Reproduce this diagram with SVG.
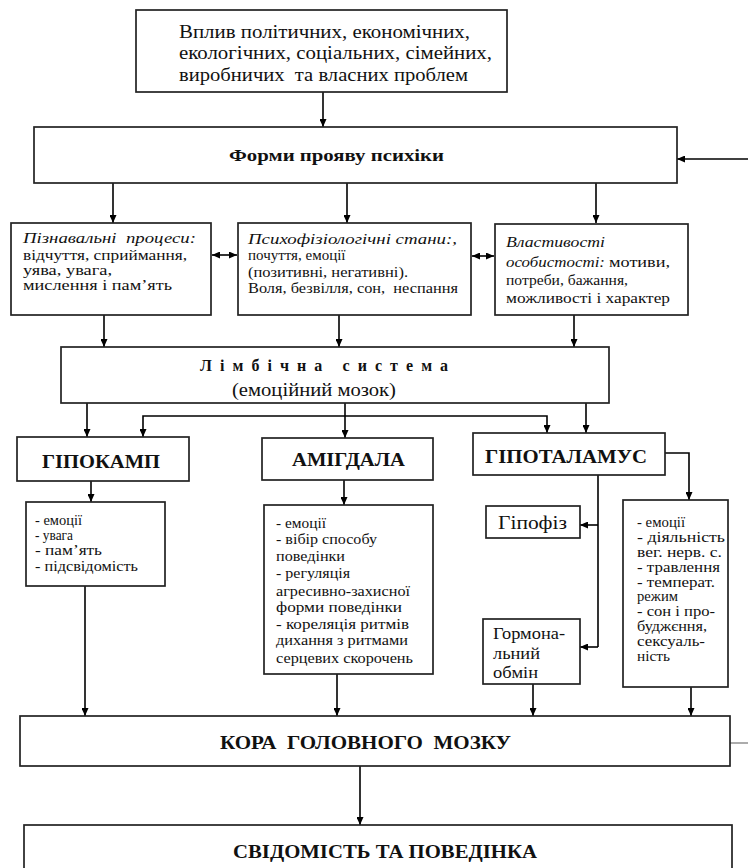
<svg xmlns="http://www.w3.org/2000/svg" width="748" height="868" viewBox="0 0 748 868" font-family="Liberation Serif, Times New Roman, DejaVu Serif, serif">
<defs>
<marker id="arr" viewBox="0 0 8 7" refX="8" refY="3.5" markerWidth="8" markerHeight="7" markerUnits="userSpaceOnUse" orient="auto-start-reverse">
<path d="M0,0 L8,3.5 L0,7 z" fill="#000"/>
</marker>
<style>
.box{fill:#fff;stroke:#222;stroke-width:1.7}
.ln{fill:none;stroke:#000;stroke-width:1.6}
text{fill:#111}
.b{font-weight:bold}
.i{font-style:italic}
</style>
</defs>
<rect width="748" height="868" fill="#fff"/>

<g id="connectors">
<line class="ln" x1="323" y1="92" x2="323" y2="127" marker-end="url(#arr)"/>
<line class="ln" x1="748" y1="159" x2="677" y2="159" stroke-width="2.6" marker-end="url(#arr)"/>
<line class="ln" x1="113" y1="183" x2="113" y2="223" marker-end="url(#arr)"/>
<line class="ln" x1="347" y1="183" x2="347" y2="223" marker-end="url(#arr)"/>
<line class="ln" x1="596" y1="183" x2="596" y2="223" marker-end="url(#arr)"/>
<line class="ln" x1="212" y1="255" x2="237" y2="255" marker-start="url(#arr)" marker-end="url(#arr)"/>
<line class="ln" x1="472" y1="256" x2="494" y2="256" marker-start="url(#arr)" marker-end="url(#arr)"/>
<line class="ln" x1="104" y1="315" x2="104" y2="347" marker-end="url(#arr)"/>
<line class="ln" x1="339" y1="315" x2="339" y2="347" marker-end="url(#arr)"/>
<line class="ln" x1="574" y1="315" x2="574" y2="347" marker-end="url(#arr)"/>
<line class="ln" x1="87" y1="403" x2="87" y2="437" marker-end="url(#arr)"/>
<polyline class="ln" points="143,437 143,416 547,416 547,433" marker-start="url(#arr)" marker-end="url(#arr)"/>
<line class="ln" x1="345" y1="403" x2="345" y2="438" marker-end="url(#arr)"/>
<line class="ln" x1="586" y1="403" x2="586" y2="433" marker-end="url(#arr)"/>
<line class="ln" x1="91" y1="481" x2="91" y2="502" marker-end="url(#arr)"/>
<line class="ln" x1="344" y1="480" x2="344" y2="505" marker-end="url(#arr)"/>
<polyline class="ln" points="665,453 689,453 689,500" marker-end="url(#arr)"/>
<line class="ln" x1="598" y1="475" x2="598" y2="647"/>
<line class="ln" x1="598" y1="525" x2="580" y2="525" marker-end="url(#arr)"/>
<line class="ln" x1="598" y1="647" x2="580" y2="647" marker-end="url(#arr)"/>
<line class="ln" x1="85" y1="586" x2="85" y2="716" marker-end="url(#arr)"/>
<line class="ln" x1="337" y1="674" x2="337" y2="716" marker-end="url(#arr)"/>
<line class="ln" x1="533" y1="684" x2="533" y2="716" marker-end="url(#arr)"/>
<line class="ln" x1="691" y1="687" x2="691" y2="716" marker-end="url(#arr)"/>
<line x1="730" y1="743" x2="748" y2="743" stroke="#888" stroke-width="1.4"/>
<line class="ln" x1="360" y1="766" x2="360" y2="825" marker-end="url(#arr)"/>
</g>

<g id="n-influence">
<rect class="box" x="136" y="10" width="371" height="82"/>
<text font-size="18" xml:space="preserve"><tspan x="179" y="38" textLength="291" lengthAdjust="spacingAndGlyphs">Вплив політичних, економічних,</tspan><tspan x="179" y="59" textLength="313" lengthAdjust="spacingAndGlyphs">екологічних, соціальних, сімейних,</tspan><tspan x="179" y="81" textLength="289" lengthAdjust="spacingAndGlyphs">виробничих  та власних проблем</tspan></text>
</g>

<g id="n-forms">
<rect class="box" x="34" y="127" width="643" height="56"/>
<text class="b" font-size="17.5" x="229" y="161" textLength="215" lengthAdjust="spacingAndGlyphs">Форми прояву психіки</text>
</g>

<g id="n-cognitive">
<rect class="box" x="11" y="223" width="200" height="92"/>
<text font-size="15" xml:space="preserve"><tspan x="23" y="243" class="i" textLength="173" lengthAdjust="spacingAndGlyphs">Пізнавальні  процеси:</tspan><tspan x="23" y="260" textLength="164" lengthAdjust="spacingAndGlyphs">відчуття, сприймання,</tspan><tspan x="23" y="275" textLength="89" lengthAdjust="spacingAndGlyphs">уява, увага,</tspan><tspan x="23" y="290" textLength="149" lengthAdjust="spacingAndGlyphs">мислення і пам’ять</tspan></text>
</g>

<g id="n-states">
<rect class="box" x="238" y="223" width="233" height="92"/>
<text font-size="15" xml:space="preserve"><tspan x="248" y="244" class="i" textLength="209" lengthAdjust="spacingAndGlyphs">Психофізіологічні стани:,</tspan><tspan x="248" y="260">почуття, емоції</tspan><tspan x="248" y="277" textLength="160" lengthAdjust="spacingAndGlyphs">(позитивні, негативні).</tspan><tspan x="248" y="293" textLength="210" lengthAdjust="spacingAndGlyphs">Воля, безвілля, сон,  неспання</tspan></text>
</g>

<g id="n-traits">
<rect class="box" x="495" y="224" width="193" height="91"/>
<text font-size="15"><tspan x="506" y="247" class="i" textLength="99" lengthAdjust="spacingAndGlyphs">Властивості</tspan><tspan x="506" y="267" class="i" textLength="99" lengthAdjust="spacingAndGlyphs">особистості:</tspan><tspan x="609" y="267" textLength="61" lengthAdjust="spacingAndGlyphs">мотиви,</tspan><tspan x="506" y="285" textLength="122" lengthAdjust="spacingAndGlyphs">потреби, бажання,</tspan><tspan x="506" y="303" textLength="164" lengthAdjust="spacingAndGlyphs">можливості і характер</tspan></text>
</g>

<g id="n-limbic">
<rect class="box" x="61" y="347" width="548" height="56"/>
<text class="b" font-size="16" x="200" y="371" textLength="248" lengthAdjust="spacing">Лімбічна система</text>
<text font-size="18" x="232" y="396" textLength="164" lengthAdjust="spacingAndGlyphs">(емоційний мозок)</text>
</g>

<g id="n-hippocampus">
<rect class="box" x="17" y="437" width="172" height="44"/>
<text class="b" font-size="19" x="42" y="468" textLength="118" lengthAdjust="spacingAndGlyphs">ГІПОКАМП</text>
</g>

<g id="n-amygdala">
<rect class="box" x="262" y="438" width="171" height="42"/>
<text class="b" font-size="19" x="292" y="466" textLength="113" lengthAdjust="spacingAndGlyphs">АМІГДАЛА</text>
</g>

<g id="n-hypothalamus">
<rect class="box" x="473" y="433" width="192" height="42"/>
<text class="b" font-size="19" x="485" y="463" textLength="162" lengthAdjust="spacingAndGlyphs">ГІПОТАЛАМУС</text>
</g>

<g id="n-hippo-list">
<rect class="box" x="26" y="502" width="139" height="84"/>
<text font-size="14.5"><tspan x="35" y="525" textLength="47" lengthAdjust="spacingAndGlyphs">- емоції</tspan><tspan x="35" y="540" textLength="38" lengthAdjust="spacingAndGlyphs">- увага</tspan><tspan x="35" y="555" textLength="67" lengthAdjust="spacingAndGlyphs">- пам’ять</tspan><tspan x="35" y="571" textLength="103" lengthAdjust="spacingAndGlyphs">- підсвідомість</tspan></text>
</g>

<g id="n-amyg-list">
<rect class="box" x="264" y="505" width="169" height="169"/>
<text font-size="15"><tspan x="276" y="528" textLength="50" lengthAdjust="spacingAndGlyphs">- емоції</tspan><tspan x="276" y="544" textLength="101" lengthAdjust="spacingAndGlyphs">- вібір способу</tspan><tspan x="276" y="561" textLength="69" lengthAdjust="spacingAndGlyphs">поведінки</tspan><tspan x="276" y="578" textLength="74" lengthAdjust="spacingAndGlyphs">- регуляція</tspan><tspan x="276" y="596" textLength="134" lengthAdjust="spacingAndGlyphs">агресивно-захисної</tspan><tspan x="276" y="612" textLength="126" lengthAdjust="spacingAndGlyphs">форми поведінки</tspan><tspan x="276" y="629" textLength="133" lengthAdjust="spacingAndGlyphs">- кореляція ритмів</tspan><tspan x="276" y="645" textLength="132" lengthAdjust="spacingAndGlyphs">дихання з ритмами</tspan><tspan x="276" y="663" textLength="137" lengthAdjust="spacingAndGlyphs">серцевих скорочень</tspan></text>
</g>

<g id="n-pituitary">
<rect class="box" x="486" y="506" width="94" height="32"/>
<text font-size="19" x="498" y="529" textLength="69" lengthAdjust="spacingAndGlyphs">Гіпофіз</text>
</g>

<g id="n-hormonal">
<rect class="box" x="483" y="619" width="97" height="65"/>
<text font-size="17"><tspan x="493" y="639" textLength="72" lengthAdjust="spacingAndGlyphs">Гормона-</tspan><tspan x="493" y="659" textLength="47" lengthAdjust="spacingAndGlyphs">льний</tspan><tspan x="493" y="678" textLength="45" lengthAdjust="spacingAndGlyphs">обмін</tspan></text>
</g>

<g id="n-hyp-list">
<rect class="box" x="623" y="500" width="105" height="187"/>
<text font-size="14"><tspan x="637" y="527" textLength="48" lengthAdjust="spacingAndGlyphs">- емоції</tspan><tspan x="637" y="542" textLength="88" lengthAdjust="spacingAndGlyphs">- діяльність</tspan><tspan x="637" y="557" textLength="85" lengthAdjust="spacingAndGlyphs">вег. нерв. с.</tspan><tspan x="637" y="572" textLength="83" lengthAdjust="spacingAndGlyphs">- травлення</tspan><tspan x="637" y="587" textLength="78" lengthAdjust="spacingAndGlyphs">- температ.</tspan><tspan x="637" y="601" textLength="41" lengthAdjust="spacingAndGlyphs">режим</tspan><tspan x="637" y="616" textLength="78" lengthAdjust="spacingAndGlyphs">- сон і про-</tspan><tspan x="637" y="631" textLength="70" lengthAdjust="spacingAndGlyphs">буджєння,</tspan><tspan x="637" y="646" textLength="68" lengthAdjust="spacingAndGlyphs">сексуаль-</tspan><tspan x="637" y="661" textLength="33" lengthAdjust="spacingAndGlyphs">ність</tspan></text>
</g>

<g id="n-cortex">
<rect class="box" x="20" y="716" width="710" height="50"/>
<text class="b" font-size="18" x="220" y="749" textLength="291" lengthAdjust="spacingAndGlyphs" xml:space="preserve">КОРА  ГОЛОВНОГО  МОЗКУ</text>
</g>

<g id="n-behaviour">
<rect class="box" x="24" y="825" width="708" height="60"/>
<text class="b" font-size="18" x="233" y="858" textLength="304" lengthAdjust="spacingAndGlyphs">СВІДОМІСТЬ ТА ПОВЕДІНКА</text>
</g>
</svg>
